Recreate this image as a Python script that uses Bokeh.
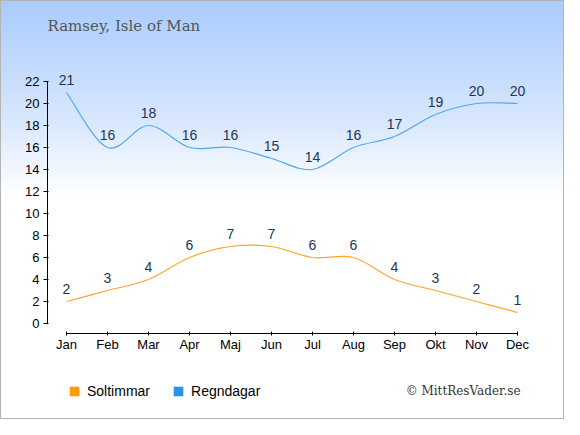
from bokeh.plotting import figure
from bokeh.models import (FixedTicker, Label, Legend, LegendItem, ColumnDataSource)
from bokeh.core.properties import value
from bokeh.embed import file_html
from bokeh.resources import INLINE

months = ["Jan", "Feb", "Mar", "Apr", "Maj", "Jun", "Jul", "Aug", "Sep", "Okt", "Nov", "Dec"]
soltimmar = [2, 3, 4, 6, 7, 7, 6, 6, 4, 3, 2, 1]
regndagar = [21, 16, 18, 16, 16, 15, 14, 16, 17, 19, 20, 20]
y_ticks = list(range(0, 23, 2))

SUN_COLOR = "#ffa52a"
RAIN_COLOR = "#4ea6f0"
SUN_LEG = "#ff9c00"
RAIN_LEG = "#2c92e8"
LABEL_COLOR = "#1f3557"

W, H = 564, 419
LEFT, RIGHT, TOP, BOTTOM = 47, 0, 0, 20
FW, FH = W - LEFT - RIGHT, H - TOP - BOTTOM
PX_X, PX_Y = 41.0, 11.0
x0 = -19.0 / PX_X          # Jan sits 19px right of the y axis
y0 = -76.0 / PX_Y          # zero sits 76px above frame bottom
x_axis_at = -10.0 / PX_Y   # x axis line 10px below zero

p = figure(width=W, height=H, output_backend="svg", toolbar_location=None,
           x_range=(x0, x0 + FW / PX_X), y_range=(y0, y0 + FH / PX_Y),
           min_border_left=LEFT, min_border_right=RIGHT,
           min_border_top=TOP, min_border_bottom=BOTTOM)
p.background_fill_alpha = 0
p.border_fill_alpha = 0
p.outline_line_color = None
p.grid.grid_line_color = None
p.styles = {"background": "linear-gradient(#a9cbfd 0%, #d6e6fd 28%, #ffffff 47%, #ffffff 100%)",
            "box-shadow": "inset 0 0 0 1px #b4b4b4"}

xs = list(range(len(months)))

def bezier_parts(ys):
    n = len(ys)
    d = dict(x0=[], y0=[], x1=[], y1=[], cx0=[], cy0=[], cx1=[], cy1=[])
    for i in range(n - 1):
        pm = max(i - 1, 0)
        pn = min(i + 2, n - 1)
        d["x0"].append(xs[i]); d["y0"].append(ys[i])
        d["x1"].append(xs[i + 1]); d["y1"].append(ys[i + 1])
        d["cx0"].append(xs[i] + (xs[i + 1] - xs[pm]) / 6.0)
        d["cy0"].append(ys[i] + (ys[i + 1] - ys[pm]) / 6.0)
        d["cx1"].append(xs[i + 1] - (xs[pn] - xs[i]) / 6.0)
        d["cy1"].append(ys[i + 1] - (ys[pn] - ys[i]) / 6.0)
    return ColumnDataSource(d)

for ys, col in ((regndagar, RAIN_COLOR), (soltimmar, SUN_COLOR)):
    p.bezier(x0="x0", y0="y0", x1="x1", y1="y1", cx0="cx0", cy0="cy0",
             cx1="cx1", cy1="cy1", source=bezier_parts(ys),
             line_color=col, line_width=1.2)
    p.text(x=xs, y=ys, text=[str(v) for v in ys], text_align="center",
           text_baseline="middle", y_offset=-13, text_color=LABEL_COLOR,
           text_font=value("Liberation Sans"), text_font_size="14px")

# axes
xa = p.xaxis[0]
xa.ticker = FixedTicker(ticks=xs)
xa.major_label_overrides = {i: m for i, m in enumerate(months)}
xa.bounds = (0, len(months) - 1)
xa.fixed_location = x_axis_at
xa.minor_tick_line_color = None
xa.major_tick_in = 2
xa.major_tick_out = 2
xa.major_label_standoff = 1
ya = p.yaxis[0]
ya.ticker = FixedTicker(ticks=y_ticks)
ya.bounds = (0, 22)
ya.minor_tick_line_color = None
ya.major_tick_in = 1
ya.major_tick_out = 4
ya.major_label_standoff = 4
for ax in (xa, ya):
    ax.axis_line_color = "black"
    ax.major_tick_line_color = "black"
    ax.major_label_text_color = "black"
    ax.major_label_text_font = "Liberation Sans"
    ax.major_label_text_font_size = "13px"

# legend swatches: zero-size bars built from the series (invisible in the plot)
r_sun = p.vbar(x=xs, top=soltimmar, bottom=soltimmar, width=0,
               fill_color=SUN_LEG, line_color=None)
r_rain = p.vbar(x=xs, top=regndagar, bottom=regndagar, width=0,
                fill_color=RAIN_LEG, line_color=None)
legend = Legend(items=[LegendItem(label="Soltimmar", renderers=[r_sun]),
                       LegendItem(label="Regndagar", renderers=[r_rain])],
                orientation="horizontal", location=(21, 0),
                glyph_width=12, glyph_height=12, label_standoff=7, spacing=22,
                padding=0, margin=0, background_fill_alpha=0, border_line_alpha=0,
                label_text_font="Liberation Sans", label_text_font_size="14px",
                label_text_color="black", label_height=12)
p.add_layout(legend, "center")

frame_bottom = H - BOTTOM
title = Label(x=0, y=frame_bottom - 25, x_units="screen", y_units="screen",
              text="Ramsey, Isle of Man",
              text_font="DejaVu Serif", text_font_size="15px", text_color="#555555",
              text_baseline="middle")
p.add_layout(title)
copy = Label(x=520 - LEFT, y=frame_bottom - 390, x_units="screen", y_units="screen",
             text="© MittResVader.se",
             text_font="DejaVu Serif", text_font_size="12px", text_color="#333333",
             text_baseline="middle", text_align="right")
p.add_layout(copy)

open("out.html", "w").write(file_html(p, INLINE))
